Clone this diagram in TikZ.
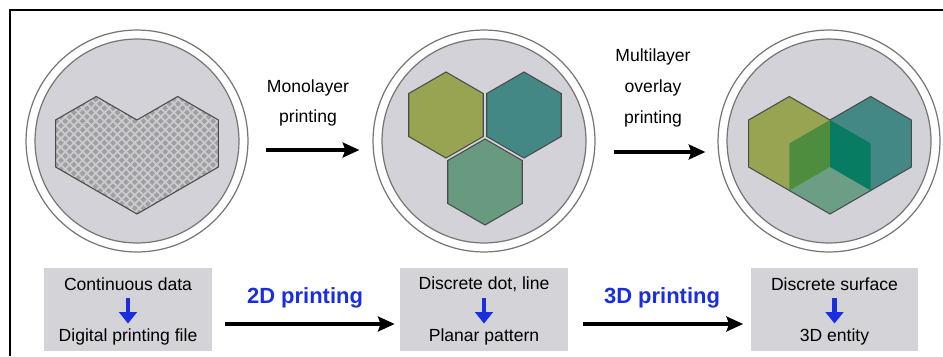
\documentclass[tikz,border=0pt]{standalone}
\usepackage{fontspec}
\setmainfont{Liberation Sans}
\usetikzlibrary{arrows.meta,patterns.meta}

\definecolor{ringgray}{RGB}{118,118,120}
\definecolor{discgray}{RGB}{210,210,216}
\definecolor{boxgray}{RGB}{211,211,216}
\definecolor{heartgray}{RGB}{160,160,163}
\definecolor{checkgray}{RGB}{204,204,208}
\definecolor{hexline}{RGB}{72,76,72}
\definecolor{olivehex}{RGB}{152,164,82}
\definecolor{tealhex}{RGB}{68,136,134}
\definecolor{seahex}{RGB}{104,154,128}
\definecolor{wallgreen}{RGB}{78,140,62}
\definecolor{wallteal}{RGB}{8,124,98}
\definecolor{floorsea}{RGB}{108,158,134}
\definecolor{printblue}{RGB}{25,45,225}

\begin{document}
\begin{tikzpicture}[x=0.02cm,y=0.02cm,
	disc/.style={ circle, draw=ringgray, line width=0.7pt, fill=white, inner sep=0pt, minimum size=4.44cm },
	discin/.style={ circle, draw=ringgray, line width=0.7pt, fill=discgray, inner sep=0pt, minimum size=4.08cm },
	stagebox/.style={ rectangle, fill=boxgray, inner sep=0pt, minimum width=3.36cm, minimum height=1.66cm },
	boxtext/.style={ inner sep=0pt, font=\fontsize{10}{12}\selectfont },
	steplabel/.style={ align=center, inner sep=0pt, font=\fontsize{10}{17.5}\selectfont },
	printlabel/.style={ inner sep=0pt, text=printblue, font=\bfseries\fontsize{12.5}{15}\selectfont },
	bigarrow/.style={ line width=1.8pt, -{Stealth[length=9.5pt,width=8.5pt,inset=1.5pt]} },
	downarrow/.style={ printblue, line width=2.6pt, -{Triangle[length=6.5pt,width=10pt]} },
	hexedge/.style={ draw=hexline, line width=0.6pt }
]

\useasboundingbox (0,0) rectangle (943,356);
\draw[line width=1.1pt] (10,0) -- (10,346) -- (943,346);

% discs
\node[disc] at (137,215) (c1) {};
\node[discin] at (137,215) (c1i) {};
\node[disc] at (484,215) (c2) {};
\node[discin] at (484,215) (c2i) {};
\node[disc] at (829,215) (c3) {};
\node[discin] at (829,215) (c3i) {};

% continuous heart
\begin{scope}[shift={(137,189)}]
	\draw[hexedge, preaction={fill=heartgray},
		preaction={pattern={Lines[angle=45,distance=3.5pt,line width=1pt]}, pattern color=checkgray},
		preaction={pattern={Lines[angle=-45,distance=3.5pt,line width=1pt]}, pattern color=checkgray}]
		(90:47) -- ++(150:47) -- ++(210:47) -- ++(270:47) -- ++(330:47) -- ++(330:47)
		-- ++(30:47) -- ++(30:47) -- ++(90:47) -- ++(150:47) -- cycle;
\end{scope}

% monolayer hexagons
\begin{scope}[shift={(446,241)}]
	\draw[hexedge, fill=olivehex] (90:43) -- ++(210:43) -- ++(270:43) -- ++(330:43) -- ++(30:43) -- ++(90:43) -- cycle;
\end{scope}
\begin{scope}[shift={(524,241)}]
	\draw[hexedge, fill=tealhex] (90:43) -- ++(210:43) -- ++(270:43) -- ++(330:43) -- ++(30:43) -- ++(90:43) -- cycle;
\end{scope}
\begin{scope}[shift={(485,174)}]
	\draw[hexedge, fill=seahex] (90:43) -- ++(210:43) -- ++(270:43) -- ++(330:43) -- ++(30:43) -- ++(90:43) -- cycle;
\end{scope}

% overlay heart
\begin{scope}[shift={(830,189)}]
	\begin{scope}[shift={(150:47)}]
		\fill[olivehex] (90:47) -- ++(210:47) -- ++(270:47) -- ++(330:47) -- ++(30:47) -- ++(90:47) -- cycle;
	\end{scope}
	\begin{scope}[shift={(30:47)}]
		\fill[tealhex] (90:47) -- ++(210:47) -- ++(270:47) -- ++(330:47) -- ++(30:47) -- ++(90:47) -- cycle;
	\end{scope}
	\fill[floorsea] (0,0) -- (210:47) -- (270:47) -- (330:47) -- cycle;
	\fill[wallgreen] (90:47) -- (0,0) -- (210:47) -- (150:47) -- cycle;
	\fill[wallteal] (90:47) -- (30:47) -- (330:47) -- (0,0) -- cycle;
	\draw[hexedge] (90:47) -- ++(150:47) -- ++(210:47) -- ++(270:47) -- ++(330:47) -- ++(330:47)
		-- ++(30:47) -- ++(30:47) -- ++(90:47) -- ++(150:47) -- cycle;
\end{scope}

% step labels
\node[steplabel] at (308,253) (mono) {Monolayer\\printing};
\node[steplabel] at (653,268) (multi) {Multilayer\\overlay\\printing};
\draw[bigarrow, shorten <=0.34cm, shorten >=0.26cm] ([yshift=-0.18cm]c1.east) -- ([yshift=-0.18cm]c2.west);
\draw[bigarrow, shorten <=0.36cm, shorten >=0.24cm] ([yshift=-0.22cm]c2.east) -- ([yshift=-0.22cm]c3.west);

% stage boxes
\node[stagebox] at (128,46.5) (b1) {};
\node[boxtext] at (128,72) (t1a) {Continuous data};
\node[boxtext] at (128,19) (t1b) {Digital printing file};
\draw[downarrow, shorten <=0.28cm, shorten >=0.27cm] (t1a.center) -- (t1b.center);

\node[stagebox] at (484,46.5) (b2) {};
\node[boxtext] at (484,72) (t2a) {Discrete dot, line};
\node[boxtext] at (484,19) (t2b) {Planar pattern};
\draw[downarrow, shorten <=0.28cm, shorten >=0.27cm] (t2a.center) -- (t2b.center);

\node[stagebox] at (834.5,46.5) (b3) {};
\node[boxtext] at (834.5,72) (t3a) {Discrete surface};
\node[boxtext] at (834.5,19) (t3b) {3D entity};
\draw[downarrow, shorten <=0.28cm, shorten >=0.27cm] (t3a.center) -- (t3b.center);

\node[printlabel] at (305,58) (p2d) {2D printing};
\node[printlabel] at (662,58) (p3d) {3D printing};
\draw[bigarrow, shorten <=0.26cm, shorten >=0.1cm] ([yshift=-0.29cm]b1.east) -- ([yshift=-0.29cm]b2.west);
\draw[bigarrow, shorten <=0.3cm, shorten >=0.14cm] ([yshift=-0.29cm]b2.east) -- ([yshift=-0.29cm]b3.west);

\end{tikzpicture}
\end{document}
